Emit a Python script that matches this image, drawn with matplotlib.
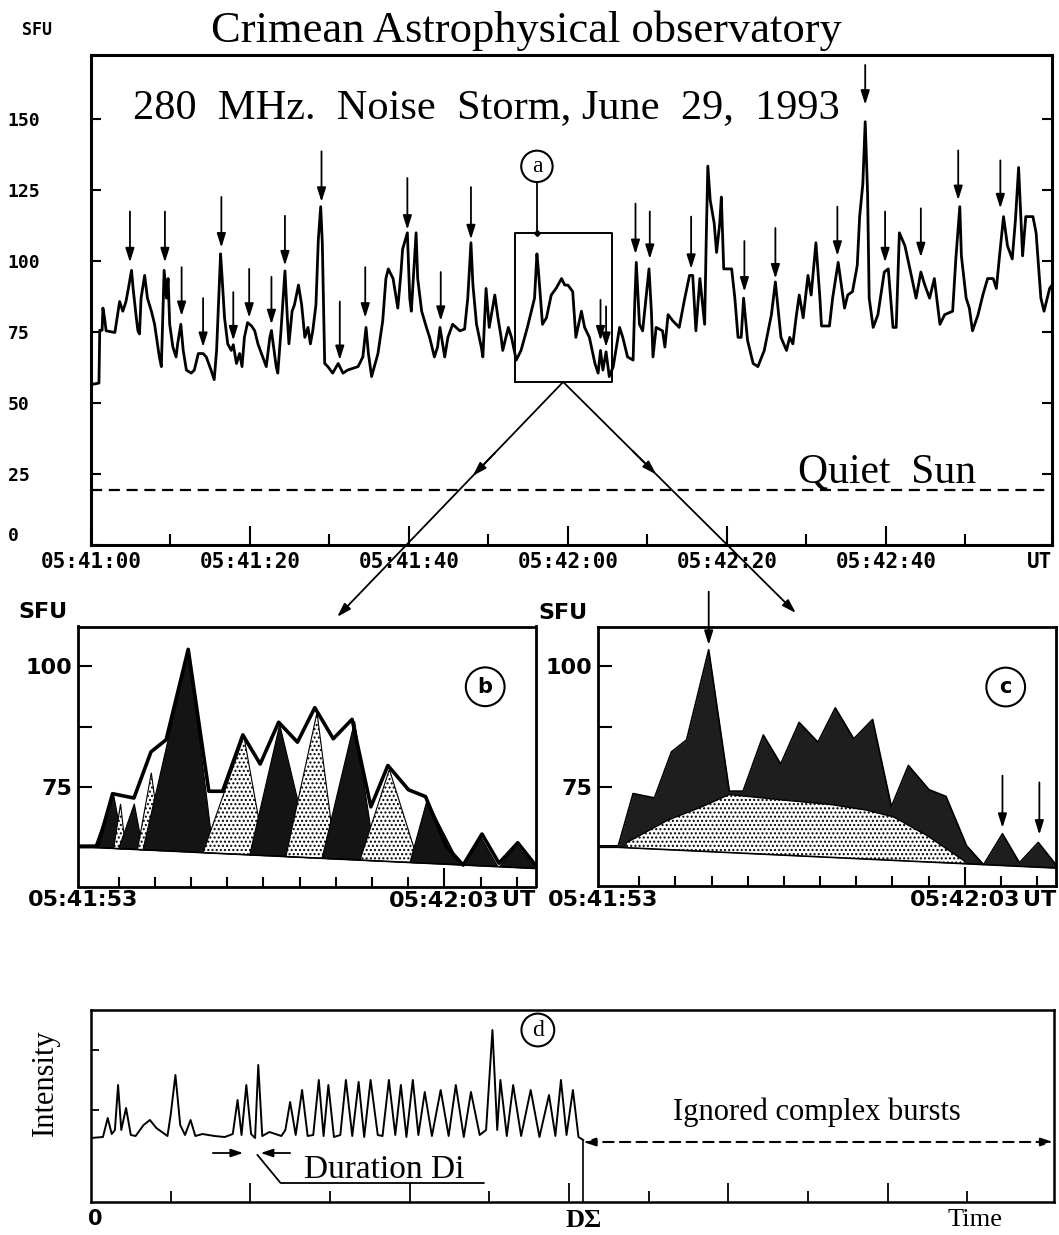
import numpy as np
import matplotlib.pyplot as plt

W, H = 1059, 1235
fig = plt.figure(figsize=(W / 100, H / 100), dpi=100)

SERIF = 'Liberation Serif'
MONO = 'DejaVu Sans Mono'
SANS = 'DejaVu Sans'


def rect(l, t, r, b):
    return [l / W, 1 - b / H, (r - l) / W, (b - t) / H]


# ---- panel a: 280 MHz flux, seconds after 05:41:00 ----
t_a = [0, 1.0, 1.1, 1.4, 1.5, 1.7, 1.9, 3.0, 3.6, 4.0, 4.4, 4.7, 5.1, 5.3, 5.7, 5.9, 6.1, 6.3,
       6.75, 7.1, 7.6, 8.0, 8.6, 8.85, 9.2, 9.5, 9.7, 9.9, 10.3, 10.7, 10.9, 11.3, 11.6, 12.0,
       12.6, 13.0, 13.5, 14.1, 14.5, 15.1, 15.5, 15.8, 16.3, 16.5, 16.8, 17.2, 17.65, 17.9,
       18.3, 18.7, 19.0, 19.3, 19.7, 20.2, 20.6, 21.0, 21.6, 22.05, 22.5, 22.7, 23.3, 23.5,
       23.9, 24.4, 24.7, 24.9, 25.3, 25.6, 26.1, 26.5, 26.9, 27.3, 27.6, 27.9, 28.3, 28.6,
       28.9, 29.1, 29.4,
       29.8, 30.4, 31.1, 31.7, 32.3, 33.6, 34.2, 34.6, 34.9, 35.3, 36.1, 36.7, 37.1, 37.4,
       38.0, 38.6, 39.0, 39.2, 39.8, 40.1, 40.3, 40.9, 41.1, 41.6, 42.2, 42.6, 43.2, 43.6,
       43.9, 44.5, 44.9, 45.5, 46.4, 47.0, 47.4, 47.8, 48.05, 48.5, 49.1, 49.3, 49.7, 50.1,
       50.8, 51.2, 51.6, 51.8, 52.5, 52.9, 53.5, 54.1, 54.9, 55.8, 56.1, 56.3, 56.8, 57.3,
       57.9, 58.5, 59.2, 59.6,
       60.0, 60.6, 61.0, 61.7, 62.1, 62.7, 63.4, 63.8, 64.1, 64.4, 64.8, 65.2, 65.7, 66.5,
       66.9, 67.5, 68.2, 68.4, 68.6, 69.0, 69.4, 70.2, 70.5, 70.7, 71.1, 71.9, 72.2, 72.6,
       73.2, 74.0, 74.7, 75.3, 75.7, 76.1, 76.6, 77.2, 77.4, 77.6, 77.9, 78.4, 78.7, 79.1,
       79.3, 79.6, 80.6, 81.0, 81.4, 81.8, 82.1, 82.6, 83.3, 83.9, 84.7, 85.6, 86.1, 86.8,
       87.5, 87.9, 88.3, 88.7, 89.1, 89.6, 90.2,
       90.6, 91.2, 91.7, 91.9, 92.9, 93.3, 94.0, 94.4, 94.8, 95.2, 95.8, 96.4, 96.7, 97.1,
       97.4, 97.7, 97.9, 98.4, 99.0, 99.8, 100.3, 100.9, 101.3, 101.7, 102.4, 103.2, 103.8,
       104.4, 104.9, 105.5, 106.1, 106.8, 107.4, 108.4, 108.8, 109.3, 109.5, 110.1, 110.5,
       110.9, 111.6, 112.2, 112.8, 113.5, 113.9, 114.3, 114.8, 115.3, 115.9, 116.3, 116.7,
       117.2, 117.6, 118.5, 118.9, 119.5, 119.9, 120.6, 120.9]
v_a = [56.5, 57, 75.6, 75.6, 83.4, 80, 75.4, 74.8, 85.7, 82.3, 85.7, 90.3, 96.7, 90.3, 80, 75.4,
       74.3, 86.9, 94.9, 86.9, 82.3, 77.7, 66.2, 62.8, 96.7, 86.9, 93.8, 77.7, 69.7, 66.2, 70.8,
       77.7, 68.5, 61.6, 60.5, 61.6, 67.4, 67.4, 66.2, 61.6, 58.2, 68.5, 102.5, 93.8, 80, 70.8,
       68.5, 70.5, 63.9, 67.4, 62.8, 73.1, 78.3, 77.1, 75.4, 70.8, 66.2, 62.8, 73.1, 75.5, 62.8,
       60.5, 75.4, 96.5, 80, 70.8, 82.3, 84.6, 91.5, 84.6, 73.1, 76.6, 70.8, 75.4, 84.6, 107.6,
       119.1, 106.4, 63.9,
       62.8, 60.5, 63.9, 60.5, 61.6, 62.8, 66.2, 76.6, 67.4, 59.3, 67.4, 78.9, 93.8, 97.2,
       93.8, 83.4, 96.1, 104.1, 109.9, 86.9, 82.3, 109.9, 93.8, 82.3, 76.6, 73.1, 66.2, 69.7,
       76.6, 66.2, 73.1, 77.7, 75.4, 76.0, 86.9, 106.4, 91.5, 77.7, 69.7, 66.2, 90.3, 76.6,
       88.0, 80.0, 73.1, 68.5, 76.6, 73.1, 65.1, 68.5, 76.6, 86.9, 102.5, 96.1, 77.7, 80.0,
       88.0, 90.3, 93.8, 91.5,
       91.5, 89.2, 73.1, 82.3, 76.6, 73.1, 63.9, 60.5, 68.5, 61.6, 68.0, 59.3, 62.8, 76.6,
       73.1, 66.2, 65.1, 84.6, 99.5, 77.7, 75.4, 97.2, 82.3, 66.2, 76.6, 75.4, 69.7, 81.1,
       78.9, 76.6, 86.9, 94.9, 94.9, 75.4, 93.8, 77.7, 107.6, 133.4, 121.4, 113.3, 103.0, 113.3,
       122.5, 97.2, 97.2, 86.9, 73.1, 73.1, 86.9, 72.0, 63.9, 62.8, 68.5, 81.1, 92.6, 73.1,
       68.5, 73.1, 70.8, 80.0, 88.0, 80.0, 94.9,
       88.0, 106.4, 86.9, 77.1, 77.1, 86.9, 99.5, 91.5, 83.4, 88.0, 89.2, 98.4, 115.6, 127.1,
       149.0, 123.7, 86.9, 76.6, 81.1, 96.1, 97.2, 76.6, 76.6, 109.9, 105.3, 94.9, 86.9,
       96.1, 91.5, 86.9, 93.8, 77.7, 81.1, 82.3, 100.7, 119.1, 101.8, 86.9, 83.4,
       75.4, 81.1, 88.0, 93.8, 93.8, 90.3, 101.8, 115.6, 105.3, 100.7, 114.5, 132.9,
       101.8, 115.6, 115.6, 109.9, 86.9, 82.3, 90.3, 91.5]

# burst markers: time, arrow tail level, arrow head level
arrow_t = [4.9, 9.3, 11.4, 14.1, 16.4, 17.9, 19.9, 22.7, 24.4, 29.0, 31.3, 34.5, 39.8, 44.0,
           47.8, 64.1, 64.8, 68.5, 70.3, 75.5, 82.2, 86.1, 93.9, 99.9, 104.4, 109.1, 114.4]
arrow_top = [117.4, 117.4, 97.8, 86.9, 122.5, 89.0, 97.2, 94.4, 115.9, 138.6, 85.7, 97.8,
             129.2, 96.1, 126.0, 86.3, 84.0, 120.2, 117.4, 115.6, 107.0, 111.6, 119.1, 117.4,
             118.5, 138.9, 135.4]
arrow_head = [99.5, 99.5, 80.6, 69.7, 104.7, 72.0, 80.0, 77.7, 98.4, 120.8, 65.1, 80.0,
              111.0, 78.9, 107.6, 72.0, 69.7, 102.4, 100.7, 97.2, 89.2, 93.8, 101.8, 99.5,
              101.3, 121.4, 118.5]
big_arrow = (97.4, 169, 155)
box_t = (53.3, 65.5)
box_v = (57.4, 110.0)
quiet_sun = 19.4

# ---- panels b, c: zoom 05:41:53 - 05:42:03 ----
prof_t = [52.9, 53.42, 53.83, 54.42, 54.89, 55.31, 55.92, 56.49, 56.87, 57.43, 57.91, 58.42,
          58.94, 59.42, 59.93, 60.45, 60.97, 61.44, 62.01, 62.48, 63.05, 63.52, 64.04, 64.51,
          65.03, 65.55]
prof_v = [62.9, 62.9, 73.7, 72.8, 82.3, 84.8, 103.4, 74.2, 74.2, 85.8, 79.8, 88.4, 84.3, 91.4,
          85.0, 89.0, 71.0, 79.5, 74.5, 73.1, 62.9, 59.0, 65.4, 59.4, 63.6, 58.7]
base_t = [52.9, 53.4, 65.55]
base_v = [62.6, 62.6, 58.3]
hump_t = [53.66, 54.79, 55.74, 56.49, 57.91, 59.32, 60.26, 61.02, 61.96, 63.0]
hump_v = [63.6, 68.2, 71.0, 73.5, 72.4, 71.4, 70.3, 68.9, 65.0, 59.7]
# single-burst triangles of panel b: start, peak time, peak level, end, dark?
tri_l = [53.33, 53.86, 54.0, 54.52, 54.67, 56.33, 57.62, 58.62, 59.62, 60.67, 62.05, 63.52, 64.52]
tri_p = [53.86, 54.05, 54.43, 54.9, 55.93, 57.46, 58.45, 59.48, 60.52, 61.48, 62.52, 64.0, 65.0]
tri_v = [73.4, 71.6, 71.6, 78.0, 103.2, 85.5, 87.9, 90.4, 88.6, 78.7, 72.3, 64.9, 63.1]
tri_r = [54.14, 54.19, 54.67, 55.19, 56.62, 58.05, 59.33, 60.0, 61.1, 62.29, 63.43, 64.48, 65.52]
tri_dark = [1, 0, 1, 0, 1, 0, 1, 0, 1, 0, 1, 1, 1]

# ---- panel d: sketch of simple bursts ----
d_t = [0, 1.5, 2.1, 2.6, 3.0, 3.4, 3.8, 4.4, 5.0, 5.6, 6.6, 7.4, 8.2, 9.6, 10.0, 10.6, 11.2,
       11.8, 12.5, 13.1, 14.0, 15.5, 16.8, 17.8, 18.4, 18.9, 19.5, 20.1, 20.6, 21.0, 21.5,
       22.4, 23.9, 24.4, 25.0, 25.7, 26.5, 27.2, 27.9, 28.6, 29.2, 29.8, 30.5, 31.3, 32.0,
       32.8, 33.6, 34.3, 35.1, 36.0, 36.6, 37.4, 38.2, 38.9, 39.6, 40.4, 41.1, 41.9, 42.8,
       43.9, 44.9, 45.8, 46.8, 47.7, 48.8, 49.6, 50.4, 51.0, 51.4, 52.2, 53.0, 54.0, 55.2,
       56.3, 57.5, 58.3, 59.0, 59.7, 60.5, 61.2, 61.8]
d_I = [0.2, 0.3, 2.2, 0.6, 1.0, 5.5, 1.0, 3.2, 0.5, 0.4, 1.5, 2.0, 1.2, 0.4, 2.5, 6.5, 1.5,
       0.5, 2.0, 0.4, 0.6, 0.4, 0.3, 0.6, 4.0, 0.5, 5.5, 0.6, 0.2, 7.5, 0.4, 0.8, 0.4, 1.0,
       3.8, 0.5, 5.0, 0.4, 0.5, 6.0, 0.4, 5.5, 0.3, 0.5, 6.0, 0.4, 5.8, 0.3, 6.0, 0.5, 0.4,
       6.0, 0.5, 5.5, 0.3, 6.0, 0.5, 4.8, 0.4, 5.0, 0.4, 5.5, 0.3, 4.8, 0.5, 1.0, 11.0, 1.0,
       6.0, 0.4, 5.5, 0.4, 5.0, 0.3, 4.5, 0.4, 6.0, 0.5, 5.0, 0.3, 0.0]
d_sigma = 61.8
dur_from, dur_to = 19.1, 21.3

# =================== panel a ===================
ax = fig.add_axes(rect(91, 55, 1052, 545))
ax.plot(t_a, v_a, color='black', lw=2.0)
ax.set_xlim(0, 120.9)
ax.set_ylim(0, 172.5)
ax.axhline(quiet_sun, color='black', lw=1.6, ls=(0, (5, 3)))
ax.plot([box_t[0], box_t[1], box_t[1], box_t[0], box_t[0]],
        [box_v[0], box_v[0], box_v[1], box_v[1], box_v[0]], color='black', lw=1.4)
aprops = dict(arrowstyle='-|>,head_length=0.7,head_width=0.22', color='black', lw=1.3,
              mutation_scale=12, shrinkA=0, shrinkB=0)
for t, top, head in zip(arrow_t, arrow_top, arrow_head):
    ax.annotate('', xy=(t, head), xytext=(t, top), arrowprops=aprops)
ax.annotate('', xy=(big_arrow[0], big_arrow[2]), xytext=(big_arrow[0], big_arrow[1]),
            arrowprops=aprops, annotation_clip=False)
ax.plot([56.1, 56.1], [127.5, box_v[1]], color='black', lw=1.3)
ax.plot([56.1], [box_v[1]], marker='D', ms=3, color='black')
ax.text(56.1, 133.3, 'a', ha='center', va='center', fontsize=17, family=SERIF,
        bbox=dict(boxstyle='circle,pad=0.22', fc='white', ec='black', lw=1.5))
ax.text(5.3, 150.4, '280  MHz.  Noise  Storm, June  29,  1993', fontsize=30.5, family=SERIF,
        va='baseline')
ax.text(89.0, 21.9, 'Quiet  Sun', fontsize=30, family=SERIF, va='baseline')
ax.set_yticks([0, 25, 50, 75, 100, 125, 150])
ax.set_xticks([0, 20, 40, 60, 80, 100])
ax.set_xticks([10, 30, 50, 70, 90, 110], minor=True)
ax.set_xticklabels(['05:41:00', '05:41:20', '05:41:40', '05:42:00', '05:42:20', '05:42:40'],
                   family=MONO, fontweight='bold', fontsize=15)
ax.set_yticklabels(['0', '25', '50', '75', '100', '125', '150'],
                   family=MONO, fontweight='bold', fontsize=13)
ax.tick_params(axis='y', direction='in', length=7, width=1.5, right=True, pad=60)
for lbl in ax.get_yticklabels():
    lbl.set_ha('left')
ax.get_yticklabels()[0].set_va('bottom')
ax.tick_params(axis='x', which='major', direction='in', length=14, width=1.5, pad=5)
ax.tick_params(axis='x', which='minor', direction='in', length=8, width=1.5)
ax.text(119.3, -2.5, 'UT', family=MONO, fontweight='bold', fontsize=15, ha='center', va='top')
for s in ax.spines.values():
    s.set_linewidth(2.2)
fig.text(0.497, 1 - 42 / H, 'Crimean Astrophysical observatory', ha='center', va='baseline',
         fontsize=32, family=SERIF)
fig.text(22 / W, 1 - 30 / H, 'SFU', family=MONO, fontweight='bold', fontsize=12, va='center')

# =================== panels b and c ===================
def zoom_axes(r, letter):
    bx = fig.add_axes(rect(*r))
    bx.set_xlim(52.86, 65.52)
    bx.set_ylim(54.6, 108.1)
    bx.set_xticks([63])
    bx.set_xticks([54, 55, 56, 57, 58, 59, 60, 61, 62, 64, 65], minor=True)
    bx.set_xticklabels(['05:42:03'], family=SANS, fontweight='bold', fontsize=16)
    bx.set_yticks([75, 100])
    bx.set_yticks([87.5], minor=True)
    bx.set_yticklabels(['75', '100'], family=SANS, fontweight='bold', fontsize=16)
    bx.tick_params(axis='x', which='major', direction='in', length=14, width=1.5, pad=3)
    bx.tick_params(axis='x', which='minor', direction='in', length=7, width=1.5)
    bx.tick_params(axis='y', which='both', direction='in', length=10, width=1.5, pad=4)
    bx.text(53.0, -0.015, '05:41:53', transform=bx.get_xaxis_transform(), family=SANS,
            fontweight='bold', fontsize=16, ha='center', va='top')
    bx.text(1.0, -0.015, 'UT', transform=bx.transAxes, family=SANS, fontweight='bold',
            fontsize=16, ha='right', va='top')
    bx.text(-0.13, 1.055, 'SFU', transform=bx.transAxes, family=SANS, fontweight='bold',
            fontsize=16, ha='left', va='center')
    bx.text(64.13, 95.7, letter, ha='center', va='center', fontsize=15, family=SANS,
            fontweight='bold',
            bbox=dict(boxstyle='circle,pad=0.45', fc='white', ec='black', lw=1.5))
    for s in bx.spines.values():
        s.set_linewidth(2.0)
    return bx


bx = zoom_axes((77.5, 626.5, 535.5, 886.5), 'b')
base_at = lambda t: np.interp(t, base_t, base_v)
for l, p, pv, r, dk in zip(tri_l, tri_p, tri_v, tri_r, tri_dark):
    xs = [l, p, r]
    ys = [base_at(l), pv, base_at(r)]
    if dk:
        bx.fill(xs, ys, facecolor='#141414', edgecolor='black', lw=0.8)
    else:
        bx.fill(xs, ys, facecolor='white', edgecolor='black', lw=0.8, hatch='....')
bx.plot(prof_t, prof_v, color='black', lw=2.6)
bx.plot(base_t, base_v, color='black', lw=1.2)

cx = zoom_axes((598, 627, 1056, 886), 'c')
cx.fill_between(prof_t, prof_v, np.interp(prof_t, base_t, base_v), color='#1e1e1e', lw=0)
cx.plot(prof_t, prof_v, color='black', lw=1.2)
hump_base = np.interp(hump_t, base_t, base_v)
cx.fill_between(hump_t, hump_v, hump_base, facecolor='white', edgecolor='black', hatch='....',
                lw=0)
cx.plot(hump_t, hump_v, color='black', lw=1.0)
cx.plot(base_t, base_v, color='black', lw=1.2)
cprops = dict(arrowstyle='-|>,head_length=0.7,head_width=0.22', color='black', lw=1.3,
              mutation_scale=12, shrinkA=0, shrinkB=0)
cx.annotate('', xy=(55.92, 104.4), xytext=(55.92, 115.4), arrowprops=cprops,
            annotation_clip=False)
cx.annotate('', xy=(64.04, 66.6), xytext=(64.04, 77.4), arrowprops=cprops)
cx.annotate('', xy=(65.06, 65.2), xytext=(65.06, 76.0), arrowprops=cprops)

# links from the box of panel a to panels b and c
src = ((box_t[0] + box_t[1]) / 2 - 0.0, box_v[0])
lprops = dict(arrowstyle='-|>,head_length=0.7,head_width=0.22', color='black', lw=1.3,
              mutation_scale=12, shrinkA=0, shrinkB=0)
for target_ax, target in ((bx, (0.567, 1.037)), (cx, (0.432, 1.054))):
    ax.annotate('', xy=target, xycoords=target_ax.transAxes, xytext=src, textcoords='data',
                arrowprops=lprops, annotation_clip=False)
    p0 = ax.transData.transform(src)
    p1 = target_ax.transAxes.transform(target)
    fig.add_artist(plt.Annotation('', xy=tuple(p0 + 0.40 * (p1 - p0)), xycoords='figure pixels',
                                  xytext=tuple(p0 + 0.30 * (p1 - p0)),
                                  textcoords='figure pixels', arrowprops=lprops))

# =================== panel d ===================
dx = fig.add_axes(rect(91, 1010, 1054, 1202))
dx.plot(d_t, d_I, color='black', lw=1.4)
dx.plot([d_sigma, d_sigma], [-6.2, d_I[-1]], color='black', lw=1.2)
dx.set_xlim(0, 120.9)
dx.set_ylim(-6.2, 13)
dx.set_xticks([20, 40, 60, 80, 100])
dx.set_xticks([10, 30, 50, 70, 90, 110], minor=True)
dx.set_xticklabels([])
dx.set_yticks([3, 9])
dx.set_yticklabels([])
dx.tick_params(axis='x', which='major', direction='in', length=14, width=1.3)
dx.tick_params(axis='x', which='minor', direction='in', length=8, width=1.3)
dx.tick_params(axis='y', direction='in', length=6, width=1.3)
for s in dx.spines.values():
    s.set_linewidth(1.8)
dx.set_ylabel('Intensity', family=SERIF, fontsize=22)
dx.yaxis.set_label_coords(-0.032, 0.62)
dx.text(0.5, -0.035, '0', transform=dx.get_xaxis_transform(), family=SANS, fontweight='bold',
        fontsize=15, ha='center', va='top')
dx.text(d_sigma, -0.035, 'D\u03a3', transform=dx.get_xaxis_transform(), family=SERIF,
        fontweight='bold', fontsize=19, ha='center', va='top')
dx.text(111, -0.035, 'Time', transform=dx.get_xaxis_transform(), family=SERIF,
        fontsize=19, ha='center', va='top')
dx.text(56.1, 11.0, 'd', ha='center', va='center', fontsize=17, family=SERIF,
        bbox=dict(boxstyle='circle,pad=0.25', fc='white', ec='black', lw=1.5))
dprops = dict(arrowstyle='-|>,head_length=0.6,head_width=0.2', color='black', lw=1.3,
              mutation_scale=12, shrinkA=0, shrinkB=0)
dx.annotate('', xy=(dur_from, -1.3), xytext=(dur_from - 3.8, -1.3), arrowprops=dprops)
dx.annotate('', xy=(dur_to, -1.3), xytext=(dur_to + 3.7, -1.3), arrowprops=dprops)
dx.plot([20.9, 23.8, 49.3], [-1.5, -4.3, -4.3], color='black', lw=1.3)
dx.text(26.8, -3.8, 'Duration Di', family=SERIF, fontsize=24, va='baseline')
dx.text(91.1, 2.0, 'Ignored complex bursts', family=SERIF, fontsize=22, ha='center',
        va='baseline')
dx.annotate('', xy=(120.8, -0.2), xytext=(d_sigma, -0.2),
            arrowprops=dict(arrowstyle='<|-|>,head_length=0.6,head_width=0.2', color='black',
                            lw=1.5, ls=(0, (5, 3)), mutation_scale=12, shrinkA=0, shrinkB=0))

fig.savefig('out.png', dpi=100)
